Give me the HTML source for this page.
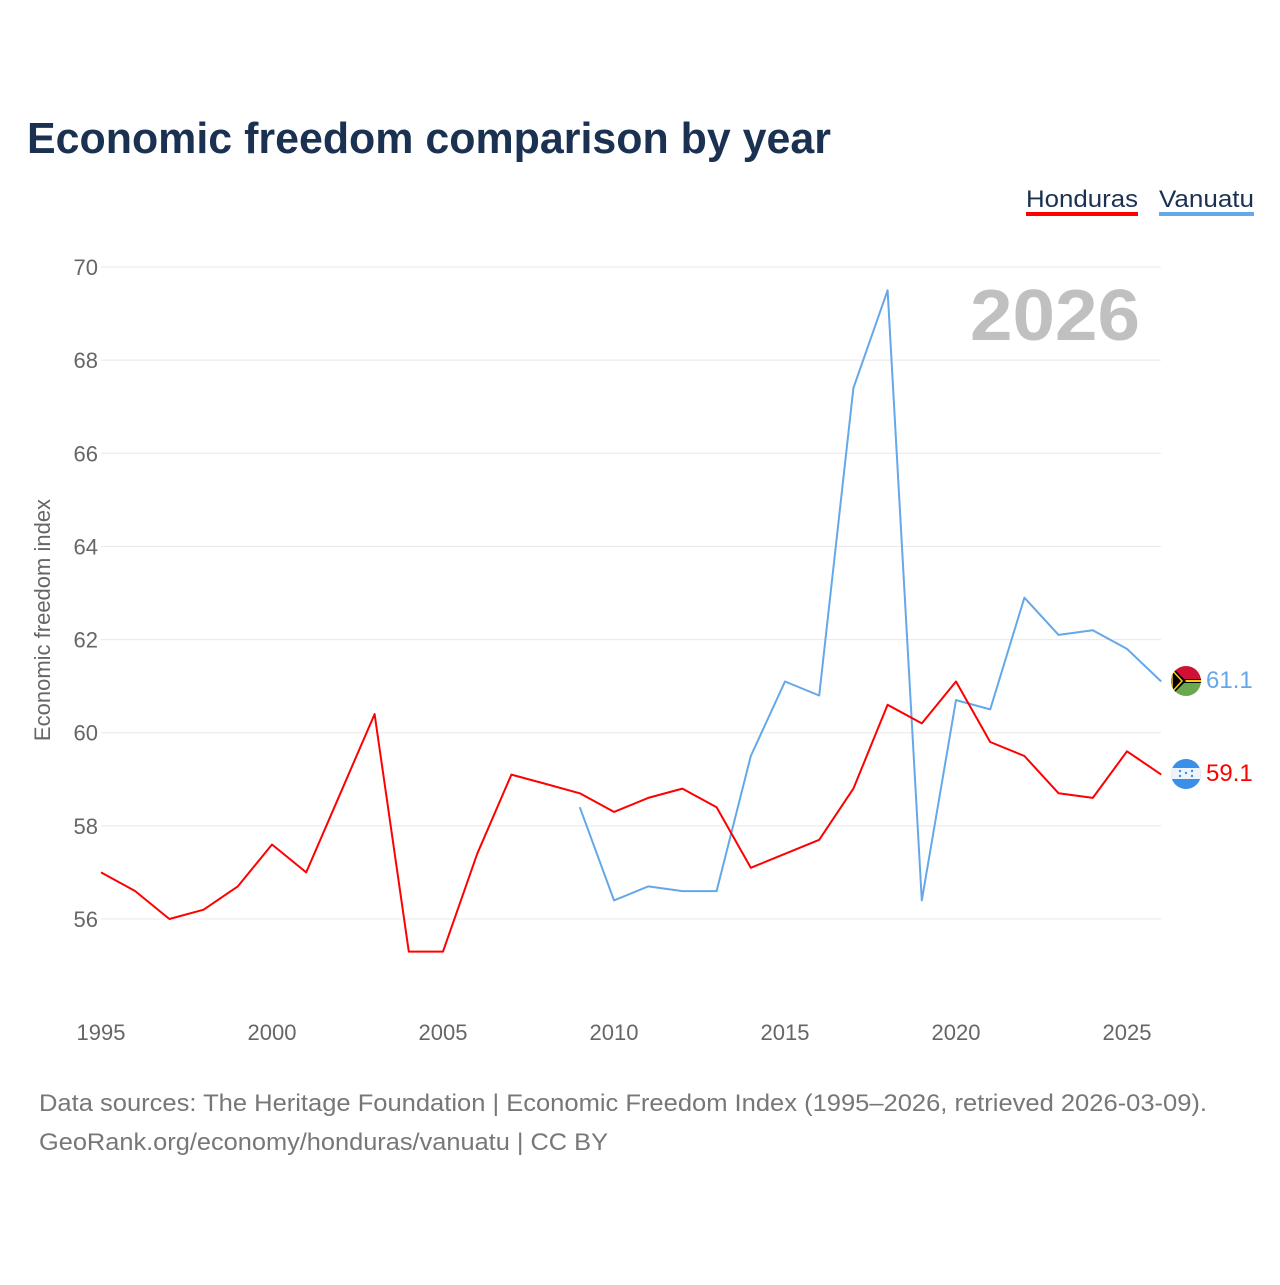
<!DOCTYPE html>
<html><head><meta charset="utf-8">
<style>
html,body{margin:0;padding:0;background:#fff;}
body{width:1280px;height:1280px;overflow:hidden;font-family:"Liberation Sans",sans-serif;}
</style></head>
<body>
<svg id="chart" width="1280" height="1280" xmlns="http://www.w3.org/2000/svg" font-family="Liberation Sans, sans-serif">
<text x="27" y="153" font-size="44" font-weight="bold" fill="#1b3152" textLength="804" lengthAdjust="spacingAndGlyphs">Economic freedom comparison by year</text>
<g>
<g>
<text x="1026" y="207" font-size="24" fill="#1b3152" textLength="112" lengthAdjust="spacingAndGlyphs">Honduras</text>
<rect x="1026" y="212" width="112" height="4" fill="#ff0000"/>
</g>
<g>
<text x="1159" y="207" font-size="24" fill="#1b3152" textLength="95" lengthAdjust="spacingAndGlyphs">Vanuatu</text>
<rect x="1159" y="212" width="95" height="4" fill="#64a8ea"/>
</g>
</g>
<text x="1140" y="340" font-size="72" font-weight="bold" fill="#c0c0c0" text-anchor="end" textLength="170" lengthAdjust="spacingAndGlyphs">2026</text>
<text transform="translate(50,620) rotate(-90)" font-size="22" fill="#666" text-anchor="middle">Economic freedom index</text>
<g id="grid"></g><g id="yticks"></g><g id="xticks"></g><g id="series"></g>
<g>
<clipPath id="cv"><circle cx="1186" cy="681" r="15"/></clipPath>
<g clip-path="url(#cv)">
<rect x="1170" y="665" width="32" height="16" fill="#d21034"/>
<rect x="1170" y="681" width="32" height="16" fill="#6aa84f"/>
<rect x="1170" y="679" width="32" height="4" fill="#000"/>
<rect x="1170" y="680" width="32" height="2" fill="#fdce12"/>
<polygon points="1170,665 1186,681 1170,697" fill="#000"/>
<polygon points="1172,670 1182,681 1172,692" fill="none" stroke="#fdce12" stroke-width="1.5"/>
</g></g>
<text x="1206" y="688" font-size="24" fill="#64a8ea">61.1</text>
<g>
<clipPath id="ch"><circle cx="1186" cy="774" r="15"/></clipPath>
<g clip-path="url(#ch)">
<rect x="1170" y="758" width="32" height="32" fill="#3a8fe8"/>
<rect x="1170" y="768" width="32" height="11" fill="#eef4fb"/>
<circle cx="1186" cy="773" r="1.2" fill="#3a8fe8"/>
<circle cx="1180" cy="771" r="1.2" fill="#3a8fe8"/>
<circle cx="1192" cy="771" r="1.2" fill="#3a8fe8"/>
<circle cx="1180" cy="776" r="1.2" fill="#3a8fe8"/>
<circle cx="1192" cy="776" r="1.2" fill="#3a8fe8"/>
</g></g>
<text x="1206" y="781" font-size="24" fill="#ff0000">59.1</text>
<text x="39" y="1111" font-size="24" fill="#777" textLength="1168" lengthAdjust="spacingAndGlyphs">Data sources: The Heritage Foundation | Economic Freedom Index (1995–2026, retrieved 2026-03-09).</text>
<text x="39" y="1150" font-size="24" fill="#777" textLength="569" lengthAdjust="spacingAndGlyphs">GeoRank.org/economy/honduras/vanuatu | CC BY</text>
</svg>
<script>
const yTicks=[56,58,60,62,64,66,68,70];
const xTicks=[1995,2000,2005,2010,2015,2020,2025];
const hondurasYears=[1995,1996,1997,1998,1999,2000,2001,2002,2003,2004,2005,2006,2007,2008,2009,2010,2011,2012,2013,2014,2015,2016,2017,2018,2019,2020,2021,2022,2023,2024,2025,2026];
const hondurasValues=[57.0,56.6,56.0,56.2,56.7,57.6,57.0,58.7,60.4,55.3,55.3,57.4,59.1,58.9,58.7,58.3,58.6,58.8,58.4,57.1,57.4,57.7,58.8,60.6,60.2,61.1,59.8,59.5,58.7,58.6,59.6,59.1];
const vanuatuYears=[2009,2010,2011,2012,2013,2014,2015,2016,2017,2018,2019,2020,2021,2022,2023,2024,2025,2026];
const vanuatuValues=[58.4,56.4,56.7,56.6,56.6,59.5,61.1,60.8,67.4,69.5,56.4,60.7,60.5,62.9,62.1,62.2,61.8,61.1];
const NS='http://www.w3.org/2000/svg';
const xs=y=>101+(y-1995)*(1127-101)/30;
const ys=v=>919-(v-56)*(919-267)/14;
function mk(tag,attrs,parent,text){const e=document.createElementNS(NS,tag);for(const k in attrs)e.setAttribute(k,attrs[k]);if(text!==undefined)e.textContent=text;document.getElementById(parent).appendChild(e);return e;}
yTicks.forEach(t=>{
 const l=mk('line',{x1:101,x2:1161,y1:ys(t),y2:ys(t),stroke:'#e8e8e8','stroke-width':1},'grid');
 
 
 const tx=mk('text',{x:98,y:ys(t)+8,'font-size':22,fill:'#666','text-anchor':'end','font-weight':'normal'},'yticks',String(t));
 
 
});
xTicks.forEach(t=>{
 const tx=mk('text',{x:xs(t),y:1040,'font-size':22,fill:'#666','text-anchor':'middle','font-weight':'normal'},'xticks',String(t));
 
 
});
function line(years,vals,color,name){
 const d=years.map((y,i)=>(i?'L':'M')+xs(y).toFixed(1)+','+ys(vals[i]).toFixed(1)).join(' ');
 const p=mk('path',{d:d,fill:'none',stroke:color,'stroke-width':2,'stroke-linejoin':'round'},'series');
 
 
}
line(vanuatuYears,vanuatuValues,'#64a8ea','line-vanuatu');
line(hondurasYears,hondurasValues,'#ff0000','line-honduras');
</script>
</body></html>
